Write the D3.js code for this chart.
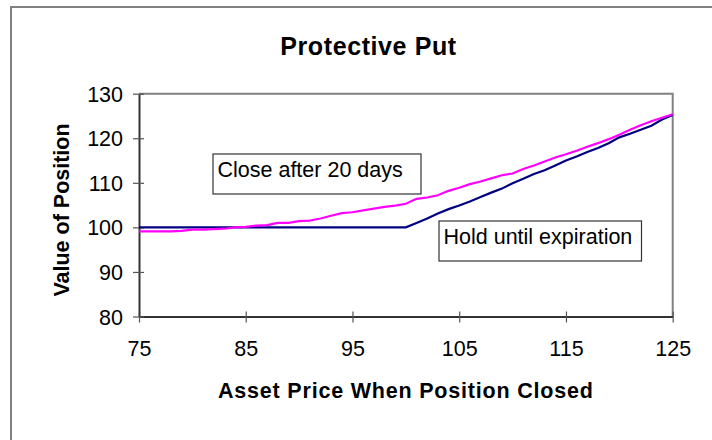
<!DOCTYPE html>
<meta charset="utf-8">
<html>
<head>
  <title>Protective Put</title>
  <style type="text/css">
    body{margin:0; background:#fff;}
    text{font-family:"Liberation Sans", Arial, sans-serif; fill:#000;}
  </style>
</head>
<body>
  <script src="https://cdn.jsdelivr.net/npm/d3@7"></script>
  <script>
    // asset price when position closed
    var prices = [75,76,77,78,79,80,81,82,83,84,85,86,87,88,89,90,91,92,93,94,95,96,97,98,99,100,
                  101,102,103,104,105,106,107,108,109,110,111,112,113,114,115,116,117,118,119,120,
                  121,122,123,124,125];

    // close after 20 days
    var closeEarly = [99.1,99.1,99.1,99.1,99.2,99.5,99.5,99.6,99.7,100.0,100.1,100.4,100.5,101.0,101.0,101.4,101.5,102.0,102.6,103.2,103.4,103.8,104.2,104.6,104.9,105.3,
                      106.4,106.7,107.2,108.2,108.9,109.7,110.3,111.0,111.7,112.1,113.1,113.9,114.8,115.7,116.4,117.2,118.1,118.9,119.8,120.8,
                      121.9,122.9,123.8,124.6,125.4];

    // hold until expiration
    var holdToExpiry = [100,100,100,100,100,100,100,100,100,100,100,100,100,100,100,100,100,100,100,100,100,100,100,100,100,100,
                        101.0,102.0,103.1,104.1,104.9,105.8,106.8,107.8,108.7,109.9,110.9,112.0,112.8,113.9,115.0,115.9,116.9,117.8,118.9,120.2,
                        121.0,121.9,122.8,124.2,125.2];

    var xTicks = [75,85,95,105,115,125];
    var yTicks = [80,90,100,110,120,130];

    var width = 712,
        height = 440;

    var svg = d3.select('body')
        .append('svg')
        .attr('width', width)
        .attr('height', height);

    // outer chart border (cut off on right and bottom)
    svg.append('path')
      .attr('d', 'M11,' + height + 'V7H' + width)
      .attr('fill', 'none')
      .attr('stroke', '#808080')
      .attr('stroke-width', 2);

    var x = d3.scaleLinear().domain([75,125]).range([139,672.7]);
    var y = d3.scaleLinear().domain([80,130]).range([316.5,93.7]);

    // plot area border (top, right)
    svg.append('path')
      .attr('d', 'M' + x(75) + ',' + y(130) + 'H' + x(125) + 'V' + y(80))
      .attr('fill', 'none')
      .attr('stroke', '#808080')
      .attr('stroke-width', 2);

    var xAxis = svg.append('g')
      .attr('transform', 'translate(0,' + y(80) + ')')
      .call(d3.axisBottom(x).tickValues(xTicks).tickSize(6).tickSizeOuter(0).tickPadding(18));

    var yAxis = svg.append('g')
      .attr('transform', 'translate(' + x(75) + ',0)')
      .call(d3.axisLeft(y).tickValues(yTicks).tickSize(6).tickSizeOuter(0).tickPadding(10));

    [xAxis, yAxis].forEach(function(g){
      g.select('.domain').attr('stroke', '#333').attr('stroke-width', 2);
      g.selectAll('.tick line').attr('stroke', '#555').attr('stroke-width', 1.2);
      g.selectAll('.tick text')
        .style('font-family', '"Liberation Sans", Arial, sans-serif')
        .style('font-size', '21.5px')
        .attr('fill', '#000');
    });
    // cross ticks
    xAxis.selectAll('.tick line').attr('y1', -5);
    yAxis.selectAll('.tick line').attr('x1', 5);
    yAxis.selectAll('.tick text').attr('dy', '0.35em');
    xAxis.selectAll('.tick text').attr('dy', '0.71em');

    var line = d3.line()
      .x(function(d){ return x(d[0]); })
      .y(function(d){ return y(d[1]); });

    svg.append('path')
      .datum(d3.zip(prices, holdToExpiry))
      .attr('d', line)
      .attr('fill', 'none')
      .attr('stroke', '#000080')
      .attr('stroke-width', 2.2);

    svg.append('path')
      .datum(d3.zip(prices, closeEarly))
      .attr('d', line)
      .attr('fill', 'none')
      .attr('stroke', '#ff00ff')
      .attr('stroke-width', 2.2);

    // title
    svg.append('text')
      .attr('x', 368.5)
      .attr('y', 55)
      .attr('text-anchor', 'middle')
      .style('font-size', '25px')
      .style('font-weight', 'bold')
      .style('letter-spacing', '0.6px')
      .text('Protective Put');

    // axis titles
    svg.append('text')
      .attr('x', (x(75) + x(125)) / 2)
      .attr('y', 397.5)
      .attr('text-anchor', 'middle')
      .style('font-size', '21.5px')
      .style('font-weight', 'bold')
      .style('letter-spacing', '0.8px')
      .text('Asset Price When Position Closed');

    svg.append('text')
      .attr('transform', 'translate(68.5,210) rotate(-90)')
      .attr('text-anchor', 'middle')
      .style('font-size', '21.5px')
      .style('font-weight', 'bold')
      .text('Value of Position');

    // text boxes labelling the lines
    var labels = [
      {text: 'Close after 20 days', x: 213, y: 154, w: 208, h: 40},
      {text: 'Hold until expiration', x: 439, y: 221, w: 202.5, h: 40}
    ];

    var boxes = svg.selectAll('g.label')
      .data(labels)
      .enter()
      .append('g')
      .attr('class', 'label');

    boxes.append('rect')
      .attr('x', function(d){ return d.x; })
      .attr('y', function(d){ return d.y; })
      .attr('width', function(d){ return d.w; })
      .attr('height', function(d){ return d.h; })
      .attr('fill', '#fff')
      .attr('stroke', '#333')
      .attr('stroke-width', 1.2);

    boxes.append('text')
      .attr('x', function(d){ return d.x + 4.5; })
      .attr('y', function(d){ return d.y + 23; })
      .style('font-size', '21.5px')
      .text(function(d){ return d.text; });
  </script>
</body>
</html>
